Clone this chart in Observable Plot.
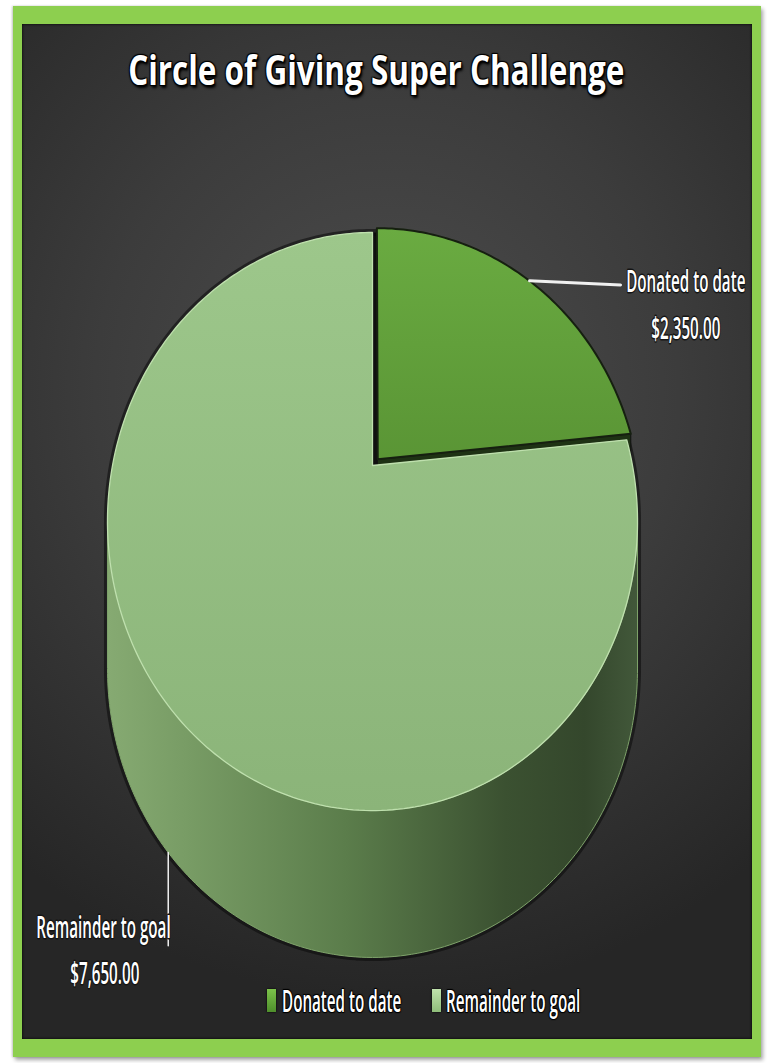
<!DOCTYPE html>
<html><head><meta charset="utf-8">
<script src="https://cdn.jsdelivr.net/npm/d3@7"></script>
<script src="https://cdn.jsdelivr.net/npm/@observablehq/plot@0.6"></script>
<style>
html,body{margin:0;padding:0;background:#fff;width:767px;height:1063px;overflow:hidden;font-family:"Open Sans",sans-serif;}
#frame{position:absolute;left:13px;top:6px;width:748px;height:1051px;background:#8dcf4f;box-shadow:2px 3px 4px rgba(0,0,0,0.35),-1px 0 2px rgba(0,0,0,0.2);}
#panel{position:absolute;left:22px;top:24px;width:730px;height:1015px;background:radial-gradient(ellipse 80% 60% at 50% 36%,#4d4d4d 0%,#3c3c3c 50%,#262626 100%);box-shadow:inset 0 0 3px #000;}
#title{position:absolute;left:-7px;top:48px;width:767px;text-align:center;white-space:nowrap;font-size:42px;line-height:42px;font-weight:700;color:#fff;}
#title span{display:inline-block;transform-origin:50% 50%;text-shadow:0 0 2px #000,1px 1px 1px #000,-1px -1px 1px #000,1px -1px 1px #000,-1px 1px 1px #000,2px 3px 3px #000;}
#chart{position:absolute;left:0;top:0;}
.sw{position:absolute;top:989px;width:9px;height:23px;box-shadow:0 0 2px #000;}
.lt{position:absolute;top:985px;font-size:31px;line-height:31px;font-weight:600;color:#fff;white-space:nowrap;transform-origin:0 50%;text-shadow:0 0 2px #000,1px 1px 1px #000,-1px -1px 1px #000,1px -1px 1px #000,-1px 1px 1px #000;}
</style></head>
<body>
<div id="frame"></div>
<div id="panel"></div>
<div id="title"><span id="titleText"></span></div>
<div id="chart"></div>
<div id="legend"></div>
<script>
// ---- data ----
const chartTitle = "Circle of Giving Super Challenge";
const categories = ["Donated to date", "Remainder to goal"];
const amounts = [2350, 7650];

// ---- styling / layout constants ----
const topFill = ["url(#gDonTop)", "url(#gRemTop)"];
const legendFill = ["linear-gradient(#7cc24a,#4f8f2c)", "linear-gradient(#c0e2ac,#8fbd7a)"];
const k = 0.1938;        // perspective factor
const depth = 0.528;     // pie thickness (y units)
const TAU = 2 * Math.PI;
const limb = Math.acos(-k);
const condense = 0.49;
const fmt = d3.format("$,.2f");

document.getElementById("titleText").textContent = chartTitle;

const total = d3.sum(amounts);
let acc = 0;
const slices = categories.map((c, i) => {
  const a0 = acc / total * TAU; acc += amounts[i]; const a1 = acc / total * TAU;
  const mid = (a0 + a1) / 2;
  const ex = i === 0 ? 0.03 : 0;
  return {category: c, amount: amounts[i], i, a0, a1, mid, ou: ex * Math.sin(mid), ov: ex * Math.cos(mid)};
});

function proj(u, v, dz = 0) { const s = 1 + k * v; return {x: u / s, y: -v / s + dz}; }
function point(s, t, r = 1, dz = 0) { return proj(s.ou + r * Math.sin(t), s.ov + r * Math.cos(t), dz); }
function arc(s, t0, t1, dz = 0) {
  const n = Math.max(2, Math.ceil(Math.abs(t1 - t0) / (Math.PI / 180)));
  return d3.range(n + 1).map(j => point(s, t0 + (t1 - t0) * j / n, 1, dz));
}

const polys = [];
const base = {ou: 0, ov: 0};
polys.push({pts: [...arc(base, TAU - limb, TAU + limb), ...arc(base, limb, TAU - limb, depth)],
  fill: "#0a0a0a", stroke: "#0a0a0a", sw: 7, so: 0.55, fo: 0.9});

const order = slices.slice().sort((a, b) => Math.cos(b.mid) - Math.cos(a.mid));
for (const s of order) {
  const c = point(s, 0, 0), cd = point(s, 0, 0, depth);
  if (Math.sin(s.a1) > 1e-6) polys.push({pts: [c, point(s, s.a1), point(s, s.a1, 1, depth), cd], fill: "#1e3214", stroke: "#111", sw: 1});
  if (Math.sin(s.a0) < -1e-6) polys.push({pts: [c, point(s, s.a0), point(s, s.a0, 1, depth), cd], fill: "#1e3214", stroke: "#111", sw: 1});
  const t0 = Math.max(s.a0, limb), t1 = Math.min(s.a1, TAU - limb);
  if (t1 > t0) polys.push({pts: [...arc(s, t0, t1), ...arc(s, t1, t0, depth)], fill: "url(#gSide)", stroke: "#7fa36b", sw: 1});
  polys.push({pts: [c, ...arc(s, s.a0, s.a1)], fill: topFill[s.i], stroke: s.i === 0 ? "#162010" : "#bfe0ae", sw: s.i === 0 ? 2 : 1.3});
}

const leaders = [], labelRows = [];
for (const s of slices) {
  if (Math.cos(s.mid) > 0) {
    const p0 = point(s, s.mid);
    const p1 = {x: 0.954, y: p0.y + 0.015};
    leaders.push({pts: [p0, p1], sw: 3});
    labelRows.push({x: p1.x + 0.25, y: p1.y - 0.01, text: s.category});
    labelRows.push({x: p1.x + 0.25, y: p1.y + 0.159, text: fmt(s.amount)});
  } else {
    const p0 = point(s, s.mid, 1, depth);
    const p1 = {x: p0.x, y: p0.y + 0.335};
    leaders.push({pts: [p0, p1], sw: 1.5});
    labelRows.push({x: p1.x - 0.25, y: p1.y - 0.065, text: s.category});
    labelRows.push({x: p1.x - 0.245, y: p1.y + 0.1, text: fmt(s.amount)});
  }
}

const defs = () => {
  const g = document.createElementNS("http://www.w3.org/2000/svg", "g");
  g.innerHTML = `<defs>
    <linearGradient id="gSide" x1="0" x2="1" y1="0" y2="0">
      <stop offset="0" stop-color="#86aa72"/><stop offset="0.15" stop-color="#789c65"/>
      <stop offset="0.45" stop-color="#5b7d4b"/><stop offset="0.75" stop-color="#3b5131"/>
      <stop offset="0.9" stop-color="#34472c"/><stop offset="1" stop-color="#42583a"/>
    </linearGradient>
    <linearGradient id="gRemTop" x1="0" x2="0" y1="0" y2="1">
      <stop offset="0" stop-color="#9dc78b"/><stop offset="1" stop-color="#8bb479"/>
    </linearGradient>
    <linearGradient id="gDonTop" x1="0" x2="0" y1="0" y2="1">
      <stop offset="0" stop-color="#6aab41"/><stop offset="1" stop-color="#5a9535"/>
    </linearGradient></defs>`;
  return g;
};

const marks = [defs,
  ...polys.map(p => Plot.line(p.pts, {x: "x", y: "y", curve: "linear-closed", fill: p.fill, stroke: p.stroke,
    strokeWidth: p.sw, strokeOpacity: p.so ?? 1, fillOpacity: p.fo ?? 1})),
  ...leaders.map(l => Plot.line(l.pts, {x: "x", y: "y", stroke: "#f0f0f0", strokeWidth: l.sw})),
  Plot.text(labelRows, {x: "x", y: "y", text: "text", fill: "white", stroke: "#141414", strokeWidth: 3,
    fontSize: 31, fontFamily: "Open Sans", fontWeight: 600, textAnchor: "middle"})
];

const chart = Plot.plot({
  width: 767, height: 1063, margin: 0,
  x: {domain: [-1, 1], range: [112, 632], axis: null},
  y: {domain: [-1, 1], range: [186.8, 743.2], axis: null},
  style: {background: "transparent", overflow: "visible"},
  marks
});
document.getElementById("chart").appendChild(chart);
// condense label glyphs horizontally about each (middle-anchored) text's centre
const svgBox = chart.getBoundingClientRect();
Array.from(chart.querySelectorAll("text")).forEach(t => {
  t.setAttribute("paint-order", "stroke");
  const r = t.getBoundingClientRect();
  const cx = r.left + r.width / 2 - svgBox.left;
  const g = document.createElementNS("http://www.w3.org/2000/svg", "g");
  t.parentNode.insertBefore(g, t);
  g.appendChild(t);
  g.setAttribute("transform", `translate(${cx.toFixed(2)},0) scale(${condense},1) translate(${(-cx).toFixed(2)},0)`);
});

const tt = document.getElementById("titleText");
tt.style.transform = `scaleX(${(496 / tt.getBoundingClientRect().width).toFixed(3)})`;

const legend = document.getElementById("legend");
const swX = [267, 432], txX = [282, 446];
categories.forEach((c, i) => {
  const sw = document.createElement("div"); sw.className = "sw";
  sw.style.left = swX[i] + "px"; sw.style.background = legendFill[i];
  const tx = document.createElement("div"); tx.className = "lt";
  tx.style.left = txX[i] + "px"; tx.textContent = c; tx.style.transform = `scaleX(${condense})`;
  legend.appendChild(sw); legend.appendChild(tx);
});
</script>
</body></html>
